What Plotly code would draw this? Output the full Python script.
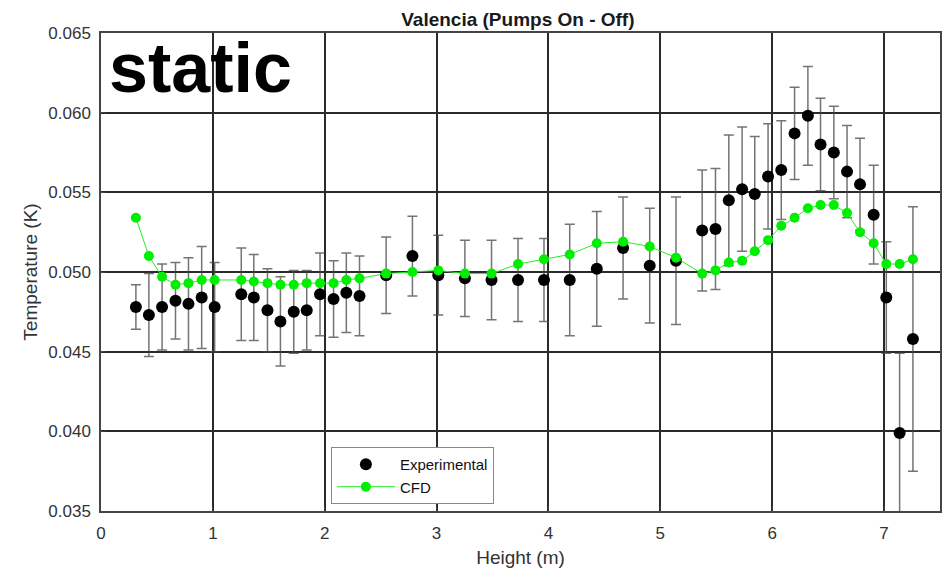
import plotly.graph_objects as go

height_m = [0.312, 0.428, 0.546, 0.666, 0.782, 0.900, 1.016, 1.254, 1.366, 1.488,
            1.604, 1.723, 1.839, 1.958, 2.079, 2.193, 2.311, 2.549, 2.784, 3.015,
            3.253, 3.491, 3.728, 3.960, 4.190, 4.432, 4.667, 4.905, 5.140, 5.374,
            5.493, 5.612, 5.731, 5.844, 5.963, 6.081, 6.200, 6.319, 6.432, 6.551,
            6.669, 6.785, 6.907, 7.020, 7.139, 7.258]

exp_temp = [0.0478, 0.0473, 0.0478, 0.0482, 0.0480, 0.0484, 0.0478, 0.0486, 0.0484, 0.0476,
            0.0469, 0.0475, 0.0476, 0.0486, 0.0483, 0.0487, 0.0485, 0.0498, 0.0510, 0.0498,
            0.0496, 0.0495, 0.0495, 0.0495, 0.0495, 0.0502, 0.0515, 0.0504, 0.0507, 0.0526,
            0.0527, 0.0545, 0.0552, 0.0549, 0.0560, 0.0564, 0.0587, 0.0598, 0.0580, 0.0575,
            0.0563, 0.0555, 0.0536, 0.0484, 0.0399, 0.0458]

exp_err = [0.0014, 0.0026, 0.0027, 0.0024, 0.0029, 0.0032, 0.0028, 0.0029, 0.0027, 0.0026,
           0.0028, 0.0026, 0.0025, 0.0026, 0.0024, 0.0025, 0.0025, 0.0024, 0.0025, 0.0025,
           0.0024, 0.0025, 0.0026, 0.0026, 0.0035, 0.0036, 0.0032, 0.0036, 0.0040, 0.0038,
           0.0038, 0.0041, 0.0039, 0.0036, 0.0033, 0.0031, 0.0029, 0.0031, 0.0029, 0.0029,
           0.0029, 0.0029, 0.0031, 0.0035, 0.0050, 0.0083]

cfd_temp = [0.0534, 0.0510, 0.0497, 0.0492, 0.0493, 0.0495, 0.0495, 0.0495, 0.0494, 0.0493,
            0.0492, 0.0492, 0.0493, 0.0493, 0.0493, 0.0495, 0.0496, 0.0499, 0.0500, 0.0501,
            0.0499, 0.0499, 0.0505, 0.0508, 0.0511, 0.0518, 0.0519, 0.0516, 0.0509, 0.0499,
            0.0501, 0.0506, 0.0507, 0.0513, 0.0520, 0.0529, 0.0534, 0.0540, 0.0542, 0.0542,
            0.0537, 0.0525, 0.0518, 0.0505, 0.0505, 0.0508]

x_ticks = [0, 1, 2, 3, 4, 5, 6, 7]
y_ticks = [0.035, 0.040, 0.045, 0.050, 0.055, 0.060, 0.065]

FONT = "Liberation Sans, Arial, Helvetica, sans-serif"

fig = go.Figure()
fig.add_trace(go.Scatter(
    x=height_m, y=exp_temp, mode="markers", name="Experimental",
    marker=dict(color="black", size=12),
    error_y=dict(type="data", array=exp_err, visible=True,
                 color="rgba(70,70,70,0.75)", thickness=1.5, width=5),
))
fig.add_trace(go.Scatter(
    x=height_m, y=cfd_temp, mode="lines+markers", name="CFD",
    line=dict(color="#22ee22", width=1),
    marker=dict(color="#00ee00", size=10),
))

axis_common = dict(
    showgrid=True, gridcolor="#2a2a2a", gridwidth=1.5,
    showline=True, linecolor="#444444", linewidth=1.5, mirror=True,
    zeroline=False, ticks="inside", ticklen=4, tickcolor="#444444",
    tickfont=dict(family=FONT, size=17, color="#333333"),
)

fig.update_layout(
    width=945, height=569,
    margin=dict(l=101, r=3, t=33, b=58),
    paper_bgcolor="white", plot_bgcolor="white",
    font=dict(family=FONT, color="#222222"),
    title=dict(text="<b>Valencia (Pumps On - Off)</b>", x=0.548, xanchor="center",
               y=0.966, yanchor="middle", font=dict(family=FONT, size=19, color="#1a1a1a")),
    xaxis=dict(range=[0, 7.5], tickvals=x_ticks, ticklabelstandoff=6,
               title=dict(text="Height (m)", font=dict(family=FONT, size=19, color="#333333"), standoff=9),
               **axis_common),
    yaxis=dict(range=[0.035, 0.065], tickvals=y_ticks, tickformat=".3f", ticklabelstandoff=5,
               title=dict(text="Temperature (K)", font=dict(family=FONT, size=19, color="#333333"), standoff=6),
               **axis_common),
    legend=dict(x=0.274, y=0.134, xanchor="left", yanchor="top",
                bgcolor="white", bordercolor="#888888", borderwidth=1,
                font=dict(family=FONT, size=15, color="#111111"),
                itemwidth=58, tracegroupgap=0),
    showlegend=True,
)

fig.add_annotation(
    text="<b>static</b>", xref="paper", yref="paper", x=0.007, y=1.012,
    xanchor="left", yanchor="top", showarrow=False,
    font=dict(family=FONT, size=70, color="black"),
)

fig.write_html("out.html")
